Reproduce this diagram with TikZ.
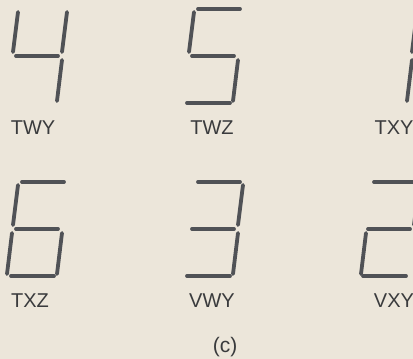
\documentclass[tikz,border=0pt]{standalone}
\usepackage{fontspec}
\setmainfont{Liberation Sans}
\definecolor{bg}{HTML}{ECE6DA}
\definecolor{seg}{HTML}{505256}
\definecolor{txt}{HTML}{3A3B3D}
\tikzset{
  segline/.style={draw=seg, line width=3.8pt, line cap=round},
  lbl/.style={text=txt, font=\fontsize{20}{22}\selectfont, inner sep=0pt, anchor=center},
}
% segments relative to origin
\newcommand{\sega}[2]{\draw[segline] (#1+8,#2) -- (#1+50,#2);}
\newcommand{\segb}[2]{\draw[segline] (#1+53,#2+3) -- (#1+48,#2+43);}
\newcommand{\segc}[2]{\draw[segline] (#1+48,#2+51) -- (#1+43,#2+92);}
\newcommand{\segd}[2]{\draw[segline] (#1-3,#2+94) -- (#1+40,#2+94);}
\newcommand{\sege}[2]{\draw[segline] (#1-2,#2+51) -- (#1-7,#2+92);}
\newcommand{\segf}[2]{\draw[segline] (#1+4,#2+3) -- (#1-1,#2+43);}
\newcommand{\segg}[2]{\draw[segline] (#1+2,#2+47) -- (#1+44,#2+47);}
\begin{document}
\begin{tikzpicture}[x=1pt,y=-1pt]
\fill[bg] (0,0) rectangle (413,359);
\useasboundingbox (0,0) rectangle (413,359);
\begin{scope}
\clip (0,0) rectangle (413,359);
% 4
\segf{14}{9}\segb{14}{9}\segg{14}{9}\segc{14}{9}
% 5
\sega{190}{9}\segf{190}{9}\segg{190}{9}\segc{190}{9}\segd{190}{9}
% 1
\segb{364}{9}\segc{364}{9}
% 6
\sega{14}{182}\segf{14}{182}\segg{14}{182}\sege{14}{182}\segc{14}{182}\segd{14}{182}
% 3
\sega{190}{182}\segb{190}{182}\segg{190}{182}\segc{190}{182}\segd{190}{182}
% 2
\sega{366}{182}\segb{366}{182}\segg{366}{182}\sege{368}{182}\segd{366}{182}
\end{scope}
\node[lbl] (l1) at (33,128) {TWY};
\node[lbl] (l2) at (212,128) {TWZ};
\node[lbl] (l3) at (394,128) {TXY};
\node[lbl] (l4) at (30,301) {TXZ};
\node[lbl] (l5) at (212,301) {VWY};
\node[lbl] (l6) at (394,301) {VXY};
\node[lbl, font=\fontsize{21}{23}\selectfont] (cap) at (225,347) {(c)};
\end{tikzpicture}
\end{document}
